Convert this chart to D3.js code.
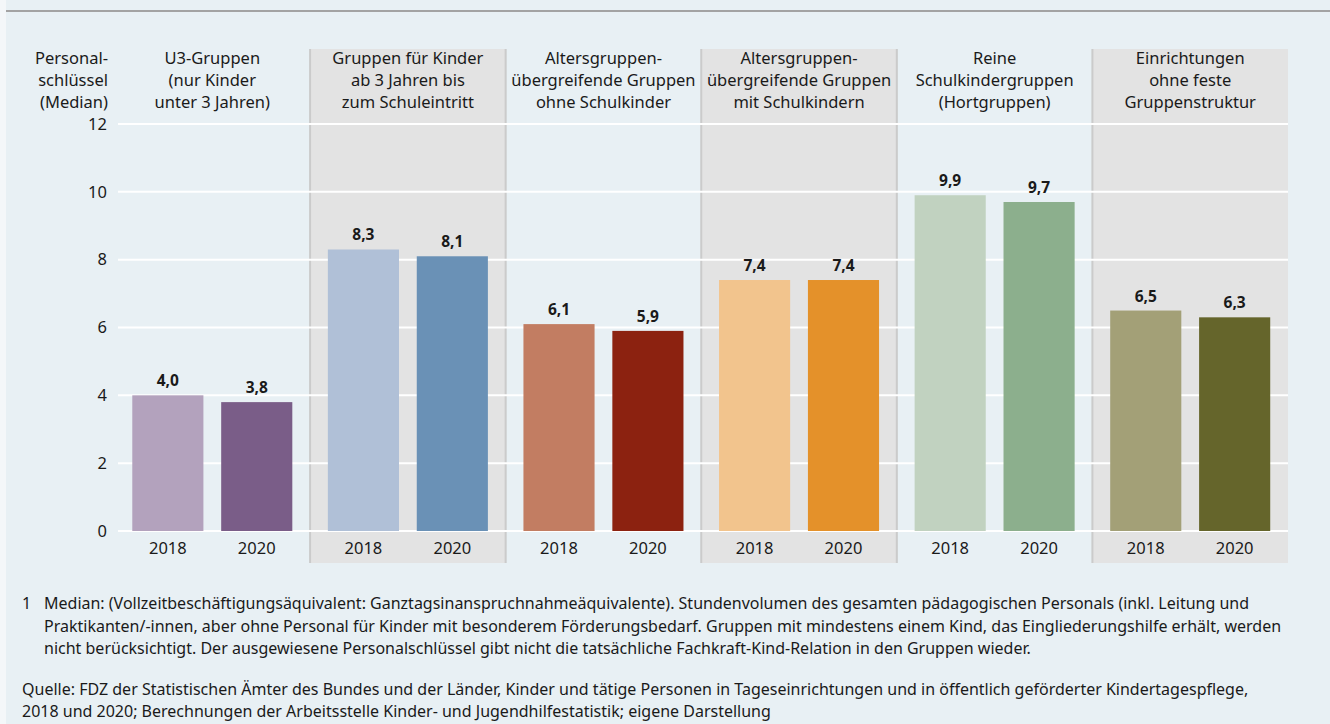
<!DOCTYPE html>
<html>
<head>
    <meta charset="utf-8">
    <title>Personalschlüssel</title>
    <script src="https://d3js.org/d3.v7.min.js"></script>
    <style>
        body {
            margin: 0;
            background: #f4f7f9;
        }

        svg {
            display: block;
            font-family: "Noto Sans", sans-serif;
        }

        .grid line {
            stroke: #fff;
            stroke-width: 2px;
        }

        .tick-label, .cat-label, .year-label {
            fill: #1a1a1a;
            font-size: 16.5px;
        }

        .note {
            fill: #1a1a1a;
            font-size: 16px;
        }

        .value-label {
            fill: #1a1a1a;
            font-size: 15.5px;
            font-weight: bold;
        }
    </style>
</head>
<body>
<script>
    var categories = [
        ["U3-Gruppen", "(nur Kinder", "unter 3 Jahren)"],
        ["Gruppen für Kinder", "ab 3 Jahren bis", "zum Schuleintritt"],
        ["Altersgruppen-", "übergreifende Gruppen", "ohne Schulkinder"],
        ["Altersgruppen-", "übergreifende Gruppen", "mit Schulkindern"],
        ["Reine", "Schulkindergruppen", "(Hortgruppen)"],
        ["Einrichtungen", "ohne feste", "Gruppenstruktur"]
    ];
    var years = ["2018", "2020"];
    var values2018 = [4.0, 8.3, 6.1, 7.4, 9.9, 6.5];
    var values2020 = [3.8, 8.1, 5.9, 7.4, 9.7, 6.3];
    var colors2018 = ["#b3a2bd", "#b0c0d7", "#c27d62", "#f2c48d", "#c1d2c0", "#a3a077"];
    var colors2020 = ["#7a5d88", "#6a91b6", "#8c2210", "#e4912a", "#8caf8d", "#65652b"];
    var yTicks = [0, 2, 4, 6, 8, 10, 12];
    var yTitle = ["Personal-", "schlüssel", "(Median)"];
    var notes = [
        "Median: (Vollzeitbeschäftigungsäquivalent: Ganztagsinanspruchnahmeäquivalente). Stundenvolumen des gesamten pädagogischen Personals (inkl. Leitung und",
        "Praktikanten/-innen, aber ohne Personal für Kinder mit besonderem Förderungsbedarf. Gruppen mit mindestens einem Kind, das Eingliederungshilfe erhält, werden",
        "nicht berücksichtigt. Der ausgewiesene Personalschlüssel gibt nicht die tatsächliche Fachkraft-Kind-Relation in den Gruppen wieder."
    ];
    var source = [
        "Quelle: FDZ der Statistischen Ämter des Bundes und der Länder, Kinder und tätige Personen in Tageseinrichtungen und in öffentlich geförderter Kindertagespflege,",
        "2018 und 2020; Berechnungen der Arbeitsstelle Kinder- und Jugendhilfestatistik; eigene Darstellung"
    ];

    var width = 1330, height = 724;
    var plotLeft = 114.5, plotRight = 1288, plotTop = 124, plotBottom = 531;
    var panelTop = 49, panelBottom = 563;

    var fmt = d3.formatLocale({decimal: ",", thousands: ".", grouping: [3], currency: ["", "€"]}).format(".1f");

    var rows = categories.map(function (c, i) {
        return {i: i, lines: c, bars: [
            {year: years[0], value: values2018[i], color: colors2018[i]},
            {year: years[1], value: values2020[i], color: colors2020[i]}
        ]};
    });

    var x0 = d3.scaleBand()
        .domain(d3.range(categories.length))
        .range([plotLeft, plotRight]);

    var x1 = d3.scaleBand()
        .domain(years)
        .range([0, x0.bandwidth()])
        .padding(0.2);

    var y = d3.scaleLinear()
        .domain([0, 12])
        .range([plotBottom, plotTop]);

    var svg = d3.select("body").append("svg")
        .attr("width", width)
        .attr("height", height);

    // background + top rule
    svg.append("rect")
        .attr("x", 6).attr("y", 0)
        .attr("width", width - 6).attr("height", height)
        .attr("fill", "#e8f0f4");
    svg.append("line")
        .attr("x1", 6).attr("x2", width)
        .attr("y1", 11).attr("y2", 11)
        .attr("stroke", "#a3a3a3").attr("stroke-width", 2);

    // grey panels for every second group
    svg.selectAll(".panel")
        .data(rows.filter(function (d) { return d.i % 2 === 1; }))
        .enter().append("rect")
        .attr("class", "panel")
        .attr("x", function (d) { return x0(d.i); })
        .attr("y", panelTop)
        .attr("width", x0.bandwidth())
        .attr("height", panelBottom - panelTop)
        .attr("fill", "#e3e3e3");

    svg.selectAll(".sep")
        .data(d3.range(1, categories.length))
        .enter().append("line")
        .attr("class", "sep")
        .attr("x1", function (d) { return x0(d); })
        .attr("x2", function (d) { return x0(d); })
        .attr("y1", panelTop).attr("y2", panelBottom)
        .attr("stroke", "#cbcbcb").attr("stroke-width", 2);

    // gridlines
    svg.append("g").attr("class", "grid")
        .selectAll("line")
        .data(yTicks)
        .enter().append("line")
        .attr("x1", plotLeft + 3.5).attr("x2", plotRight)
        .attr("y1", function (d) { return y(d); })
        .attr("y2", function (d) { return y(d); });

    svg.selectAll(".tick-label")
        .data(yTicks)
        .enter().append("text")
        .attr("class", "tick-label")
        .attr("x", 107)
        .attr("y", function (d) { return y(d); })
        .attr("dy", "0.35em")
        .attr("text-anchor", "end")
        .text(function (d) { return d; });

    svg.append("text")
        .attr("class", "tick-label")
        .attr("text-anchor", "end")
        .selectAll("tspan")
        .data(yTitle)
        .enter().append("tspan")
        .attr("x", 108)
        .attr("y", function (d, i) { return 64 + i * 22; })
        .text(function (d) { return d; });

    // groups
    var group = svg.selectAll(".group")
        .data(rows)
        .enter().append("g")
        .attr("class", "group")
        .attr("transform", function (d) { return "translate(" + x0(d.i) + ",0)"; });

    group.append("text")
        .attr("class", "cat-label")
        .attr("text-anchor", "middle")
        .selectAll("tspan")
        .data(function (d) { return d.lines; })
        .enter().append("tspan")
        .attr("x", x0.bandwidth() / 2)
        .attr("y", function (d, i) { return 64 + i * 22; })
        .text(function (d) { return d; });

    var bar = group.selectAll(".bar")
        .data(function (d) { return d.bars; })
        .enter().append("g")
        .attr("class", "bar");

    bar.append("rect")
        .attr("x", function (d) { return x1(d.year); })
        .attr("y", function (d) { return y(d.value); })
        .attr("width", x1.bandwidth())
        .attr("height", function (d) { return y(0) - y(d.value); })
        .attr("fill", function (d) { return d.color; });

    bar.append("text")
        .attr("class", "value-label")
        .attr("x", function (d) { return x1(d.year) + x1.bandwidth() / 2; })
        .attr("y", function (d) { return y(d.value) - 9; })
        .attr("text-anchor", "middle")
        .text(function (d) { return fmt(d.value); });

    bar.append("text")
        .attr("class", "year-label")
        .attr("x", function (d) { return x1(d.year) + x1.bandwidth() / 2; })
        .attr("y", 554)
        .attr("text-anchor", "middle")
        .text(function (d) { return d.year; });

    // footnotes
    svg.append("text")
        .attr("class", "note")
        .attr("x", 22).attr("y", 609)
        .text("1");

    svg.selectAll(".note-line")
        .data(notes)
        .enter().append("text")
        .attr("class", "note note-line")
        .attr("x", 44)
        .attr("y", function (d, i) { return 609 + i * 22.5; })
        .text(function (d) { return d; });

    svg.selectAll(".source-line")
        .data(source)
        .enter().append("text")
        .attr("class", "note source-line")
        .attr("x", 22)
        .attr("y", function (d, i) { return 695 + i * 22; })
        .text(function (d) { return d; });
</script>
</body>
</html>
